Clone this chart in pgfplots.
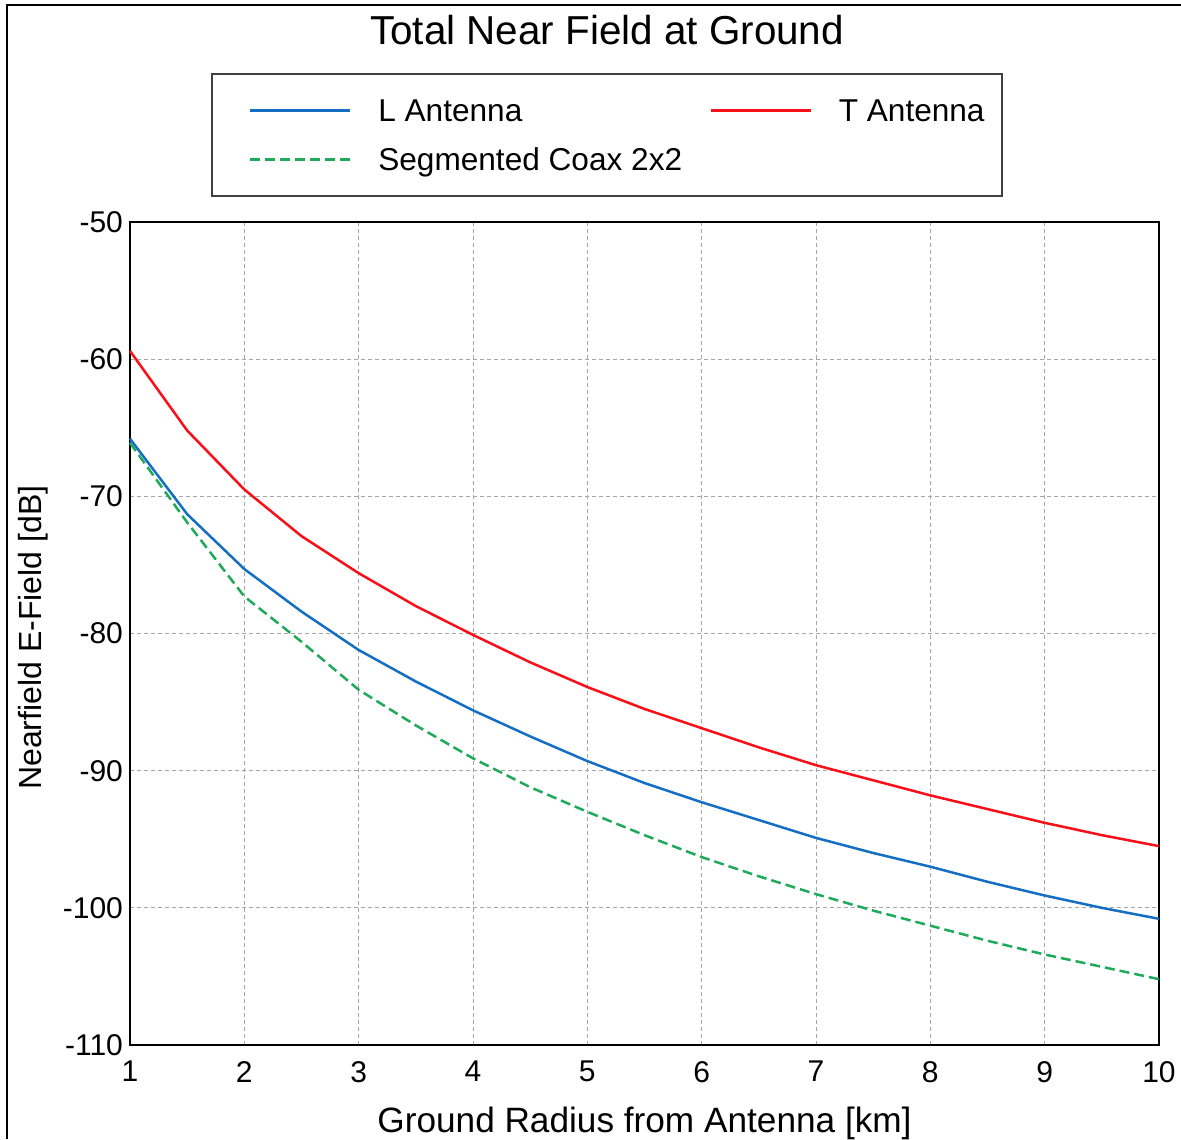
\documentclass[border=0pt]{standalone}
\usepackage{fontspec}
\setmainfont{Liberation Sans}
\usepackage{pgfplots}
\usepackage{pgfplotstable}
\pgfplotsset{compat=1.18}
\definecolor{cblue}{RGB}{20,110,195}
\definecolor{cred}{RGB}{250,15,25}
\definecolor{cgreen}{RGB}{30,170,90}

\pgfplotstableread{
x    red    blue    green
1    -59.4  -65.8   -66.1
1.5  -65.2  -71.3   -71.9
2    -69.5  -75.3   -77.3
2.5  -72.9  -78.4   -80.6
3    -75.6  -81.2   -84.1
3.5  -78.0  -83.5   -86.7
4    -80.1  -85.6   -89.1
4.5  -82.1  -87.5   -91.2
5    -83.9  -89.3   -93.0
5.5  -85.5  -90.9   -94.7
6    -86.9  -92.3   -96.3
6.5  -88.3  -93.6   -97.7
7    -89.6  -94.9   -99.0
7.5  -90.7  -96.0   -100.2
8    -91.8  -97.0   -101.3
8.5  -92.8  -98.1   -102.4
9    -93.8  -99.1   -103.4
9.5  -94.7  -100.0  -104.3
10   -95.5  -100.8  -105.2
}\data

\begin{document}
\begin{tikzpicture}
\useasboundingbox (0,0) rectangle (590.5pt,-569.5pt);
\begin{axis}[
  at={(65pt,-522.5pt)}, anchor=south west,
  width=514.5pt, height=411.5pt, scale only axis,
  xmin=1, xmax=10, ymin=-110, ymax=-50,
  xtick={1,2,3,4,5,6,7,8,9,10},
  xticklabels={1,2,3,4,5,6,7,8,9,10},
  ytick={-110,-100,-90,-80,-70,-60,-50},
  yticklabels={-110,-100,-90,-80,-70,-60,-50},
  major tick length=0pt,
  grid=major,
  major grid style={black!35, line width=0.5pt, dash pattern=on 2pt off 1.5pt},
  axis line style={black, line width=0.9pt},
  tick label style={font=\fontsize{15}{18}\selectfont},
  xticklabel style={yshift=-4.5pt},
  clip=false,
  legend columns=2,
  legend style={at={(axis description cs:0.0787,1.181)}, anchor=north west,
    draw=black!75, line width=0.8pt,
    inner xsep=0pt, inner ysep=0pt, row sep=-12pt, column sep=0pt,
    nodes={inner sep=0pt, text height=24pt, text depth=12.5pt,
           font=\fontsize{15.8}{18}\selectfont}},
  legend cell align=left,
  legend image code/.code={%
    \path (0pt,0pt) (82pt,0pt);
    \draw[#1] (18.5pt,0pt) -- (68.5pt,0pt);},
]
\addplot[cblue, line width=1.25pt] table[x=x,y=blue] {\data};
\addlegendentry{\makebox[147pt][l]{L Antenna}}
\addplot[cred, line width=1.25pt] table[x=x,y=red] {\data};
\addlegendentry{\makebox[81.5pt][l]{T Antenna}}
\addplot[cgreen, line width=1.25pt, dash pattern=on 5pt off 2.5pt] table[x=x,y=green] {\data};
\addlegendentry{\makebox[147pt][l]{Segmented Coax 2x2}}

\node[font=\fontsize{20.2}{24}\selectfont, anchor=base] at (axis description cs:0.4636,1.2151) {Total Near Field at Ground};
\node[font=\fontsize{17.6}{21}\selectfont, anchor=base] at (axis description cs:0.5,-0.1057) {Ground Radius from Antenna [km]};
\node[font=\fontsize{16}{19}\selectfont, rotate=90, anchor=center] at (axis description cs:-0.0943,0.495) {Nearfield E-Field [dB]};
\end{axis}
\draw[line width=1pt] (3.4pt,-569.5pt) -- (3.4pt,-2.5pt) -- (590.5pt,-2.5pt);
\end{tikzpicture}
\end{document}
